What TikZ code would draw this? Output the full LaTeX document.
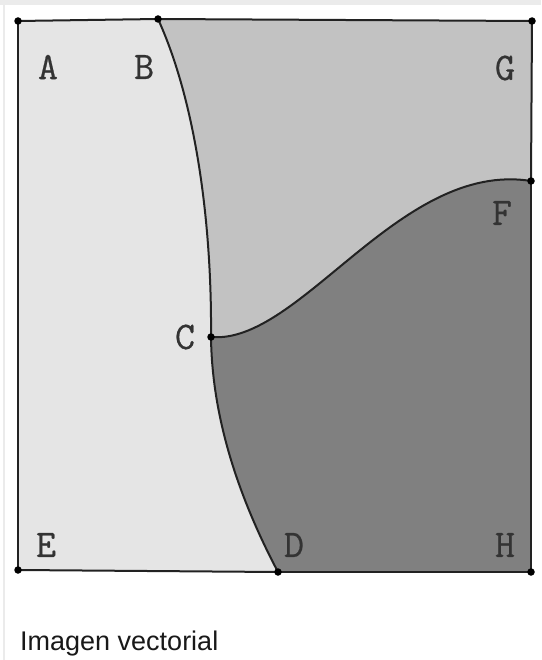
\documentclass[tikz,border=0pt]{standalone}
\usepackage{fontspec}
\setmainfont{Liberation Sans}
\newfontfamily\labfont{Latin Modern Mono}[FakeBold=0.6]
\definecolor{lightreg}{HTML}{E5E5E5}
\definecolor{midreg}{HTML}{C2C2C2}
\definecolor{darkreg}{HTML}{808080}
\definecolor{edgecol}{HTML}{222222}
\definecolor{framecol}{HTML}{EBEBEB}
\tikzset{
  edge/.style={draw=edgecol, line width=2pt},
  ptdot/.style={circle, fill=black, inner sep=0pt, minimum size=7.5pt},
  lab/.style={font=\labfont\fontsize{39}{39}\selectfont, text=black!80, inner sep=0pt},
  caption/.style={font=\fontsize{27}{27}\selectfont, text=black!90, inner sep=0pt, anchor=base west}
}
\begin{document}
\begin{tikzpicture}[x=1pt,y=-1pt]
\useasboundingbox (0,0) rectangle (541,660);
\fill[white] (0,0) rectangle (541,660);
% faint frame of the card
\fill[framecol] (0,0) rectangle (541,5);
\draw[framecol, line width=1.5pt] (4,5) -- (4,660);
% points
\coordinate (pA) at (18,21);
\coordinate (pB) at (158,19);
\coordinate (pG) at (532,21);
\coordinate (pF) at (531,181);
\coordinate (pC) at (211,337);
\coordinate (pD) at (278,572);
\coordinate (pE) at (18,570);
\coordinate (pH) at (531,572);
% regions
\fill[lightreg] (pA) -- (pB) .. controls (195,100) and (212,220) .. (pC)
  .. controls (212,420) and (240,500) .. (pD) -- (pE) -- cycle;
\fill[midreg] (pB) -- (pG) -- (pF) .. controls (400,160) and (300,345) .. (pC)
  .. controls (212,220) and (195,100) .. (pB) -- cycle;
\fill[darkreg] (pC) .. controls (300,345) and (400,160) .. (pF) -- (pH) -- (pD)
  .. controls (240,500) and (212,420) .. (pC) -- cycle;
% edges
\draw[edge] (pA) -- (pB);
\draw[edge] (pB) -- (pG);
\draw[edge] (pG) -- (pF);
\draw[edge] (pF) -- (pH);
\draw[edge] (pH) -- (pD);
\draw[edge] (pD) -- (pE);
\draw[edge] (pE) -- (pA);
\draw[edge] (pB) .. controls (195,100) and (212,220) .. (pC);
\draw[edge] (pC) .. controls (212,420) and (240,500) .. (pD);
\draw[edge] (pC) .. controls (300,345) and (400,160) .. (pF);
% dots
\foreach \p in {pA,pB,pG,pF,pC,pD,pE,pH} \node[ptdot] at (\p) {};
% labels
\node[lab] (lA) at (48,67) {A};
\node[lab] (lB) at (144,67) {B};
\node[lab] (lG) at (505,68) {G};
\node[lab] (lF) at (502,213) {F};
\node[lab] (lC) at (185,337) {C};
\node[lab] (lE) at (46,545) {E};
\node[lab] (lD) at (294,545) {D};
\node[lab] (lH) at (505,545) {H};
\node[caption] (cap) at (20,650) {Imagen vectorial};
\end{tikzpicture}
\end{document}
